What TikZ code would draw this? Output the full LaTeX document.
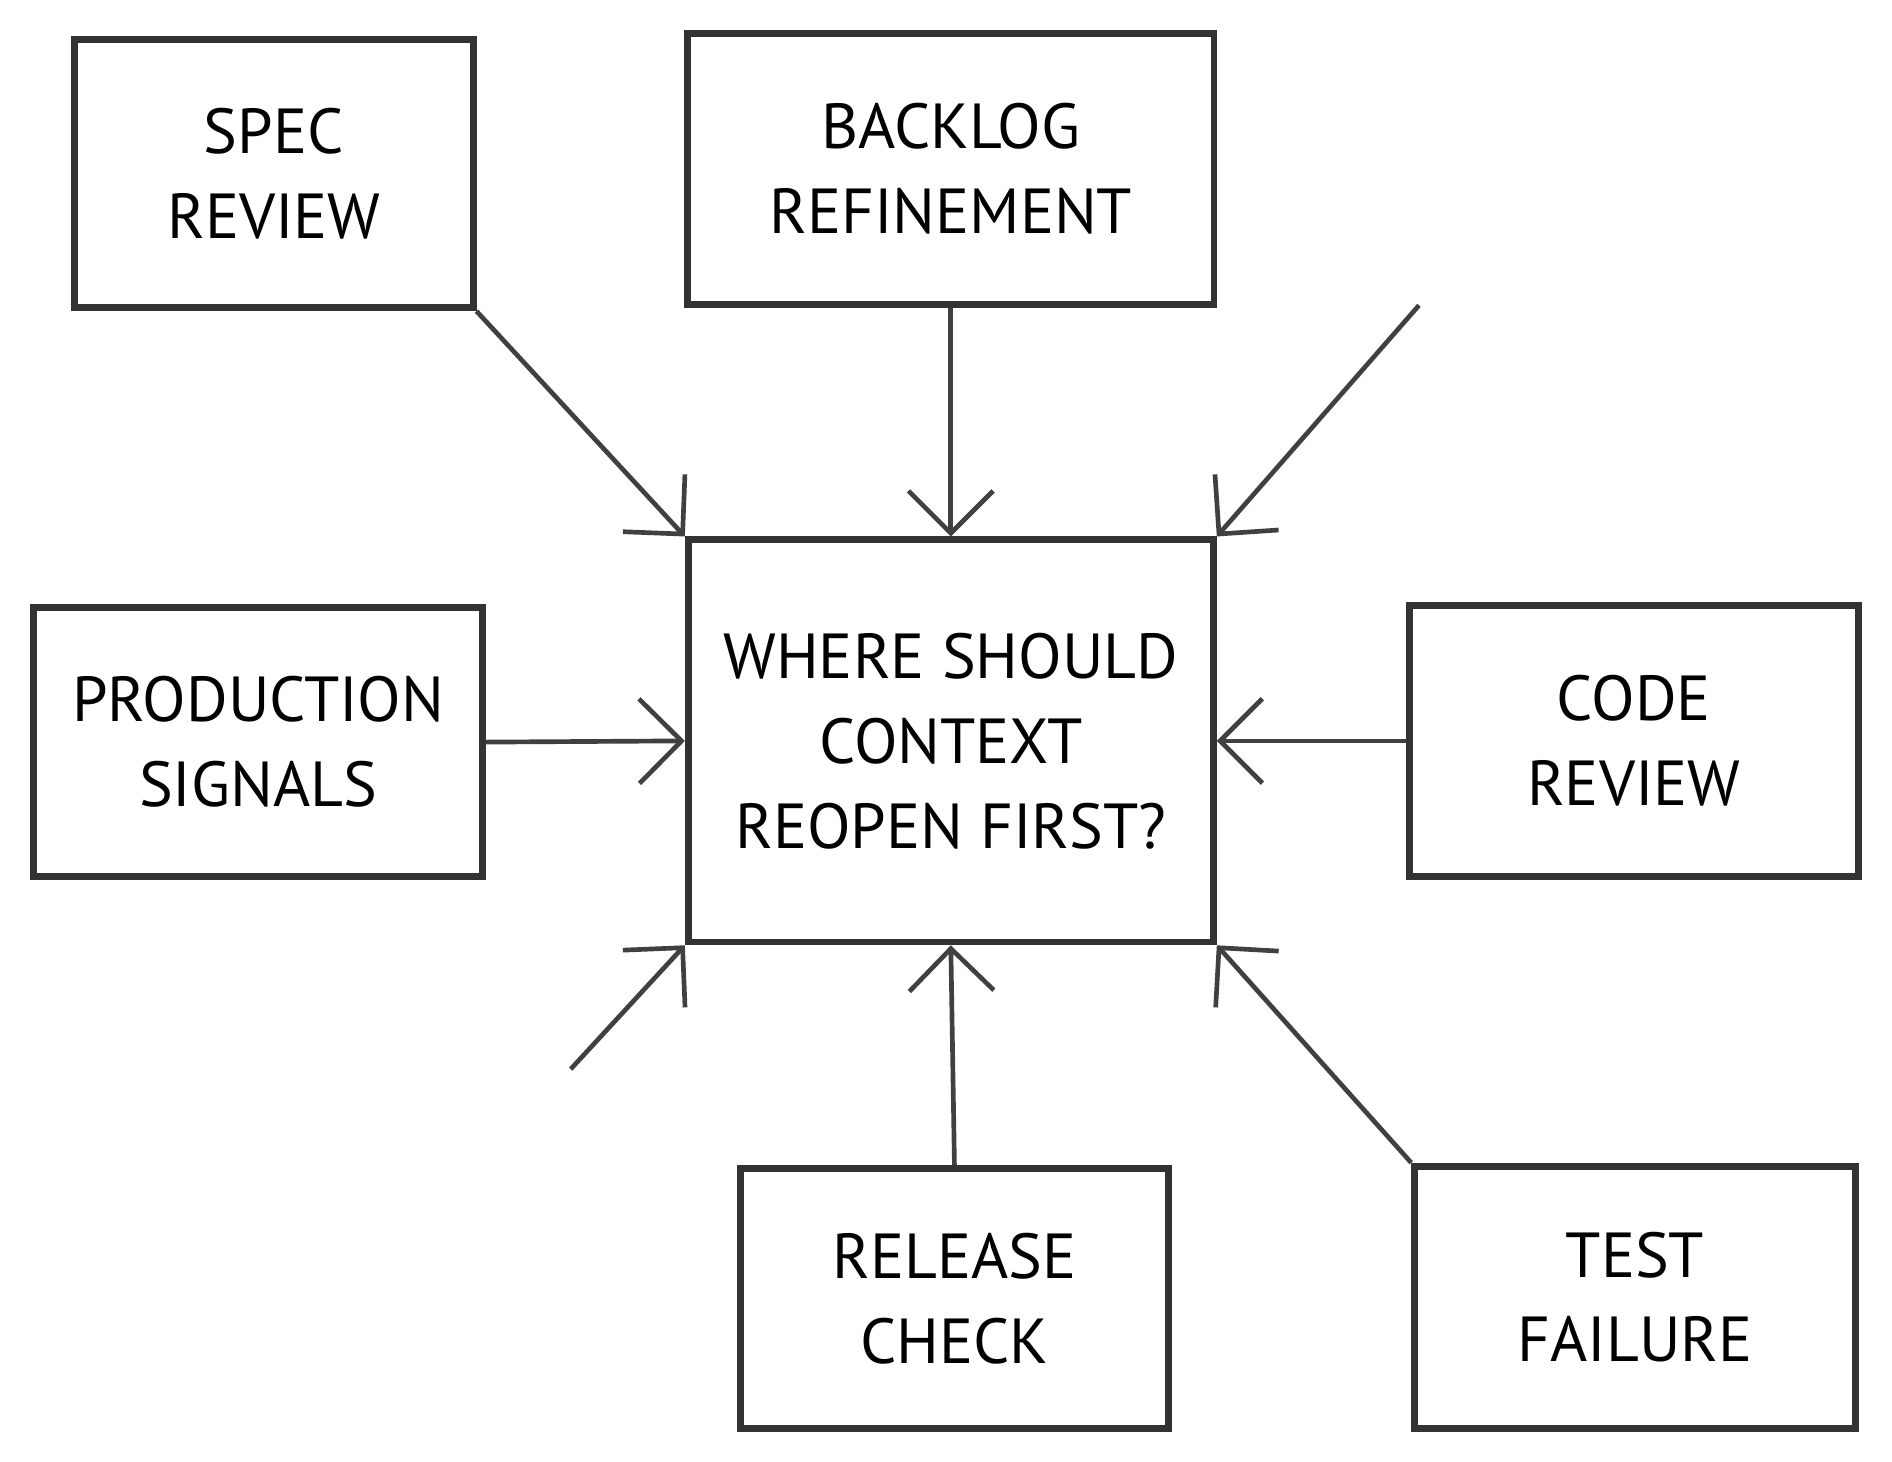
\documentclass[tikz,border=0pt]{standalone}
\usepackage{fontspec}
\setmainfont{PT Sans}
\usetikzlibrary{positioning,arrows.meta}

\begin{document}
\begin{tikzpicture}[x=0.01cm,y=-0.01cm]
\tikzset{box/.style={draw=black!80,line width=1.6pt,inner sep=0pt,align=center,
  font=\fontsize{15}{20}\selectfont},
  link/.style={draw=black!75,line width=1.1pt,-{Straight Barb[length=3.5mm,width=7mm,line width=1.1pt]}}}
\useasboundingbox (0,0) rectangle (1568,1211);
% boxes
\node[box,minimum width=3.30cm,minimum height=2.22cm] (spec) at (227,144) {SPEC\\REVIEW};
\node[box,minimum width=4.36cm,minimum height=2.24cm] (backlog) at (788,140) {BACKLOG\\REFINEMENT};
\node[box,minimum width=4.35cm,minimum height=3.33cm] (center) at (788,614) {WHERE SHOULD\\CONTEXT\\REOPEN FIRST?};
\node[box,minimum width=3.72cm,minimum height=2.23cm] (prod) at (214,615) {PRODUCTION\\SIGNALS};
\node[box,minimum width=3.72cm,minimum height=2.24cm] (code) at (1354,614) {CODE\\REVIEW};
\node[box,minimum width=3.54cm,minimum height=2.15cm] (release) at (791,1076) {RELEASE\\CHECK};
\node[box,minimum width=3.65cm,minimum height=2.17cm] (test) at (1355,1075) {TEST\\FAILURE};
% loose ends
\coordinate (ne) at (1176,253);
\coordinate (sw) at (473,886);
% connectors
\draw[link] (spec.south east) -- (center.north west);
\draw[link] (backlog.south) -- (center.north);
\draw[link] (ne) -- (center.north east);
\draw[link] (prod.east) -- (center.west);
\draw[link] (code.west) -- (center.east);
\draw[link] (sw) -- (center.south west);
\draw[link] (release.north) -- (center.south);
\draw[link] (test.north west) -- (center.south east);
\end{tikzpicture}
\end{document}
